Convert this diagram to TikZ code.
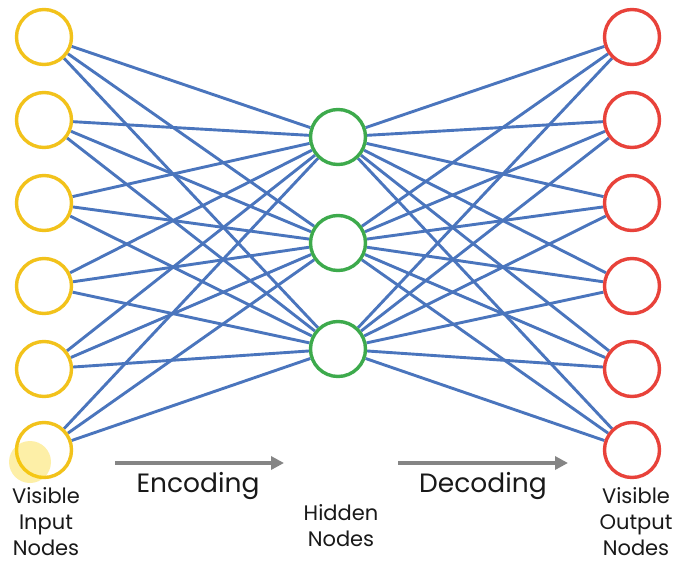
\documentclass[tikz,border=0pt]{standalone}
\usepackage{fontspec}
\setmainfont{Poppins}
\usetikzlibrary{arrows.meta,backgrounds}
\definecolor{inyel}{HTML}{F2C21B}
\definecolor{hidgrn}{HTML}{3DAA4C}
\definecolor{outred}{HTML}{E8423A}
\definecolor{edgeblue}{HTML}{4A75BD}
\definecolor{arrgray}{HTML}{858585}
\begin{document}
\begin{tikzpicture}[x=1pt,y=-1pt,
  neuron/.style={circle,draw,line width=3.4pt,fill=white,minimum size=55pt,inner sep=0pt},
  innode/.style={neuron,draw=inyel},
  hidnode/.style={neuron,draw=hidgrn},
  outnode/.style={neuron,draw=outred},
  edge/.style={draw=edgeblue,line width=2.9pt},
  flow/.style={draw=arrgray,line width=3.6pt,-{Triangle[length=13pt,width=13pt]}},
  lbl/.style={font=\fontsize{21}{26}\selectfont,align=center,text=black!90,inner sep=0pt},
  big/.style={font=\fontsize{26.5}{30}\selectfont,text=black!90}]
\useasboundingbox (0,0) rectangle (686,565);
\foreach \i/\y in {1/37,2/120,3/203,4/286,5/369,6/450}{
  \node[innode] (i\i) at (44,\y) {};
  \node[outnode] (o\i) at (632,\y) {};
}
\foreach \j/\y in {1/137,2/243,3/349}{
  \node[hidnode] (h\j) at (338,\y) {};
}
\begin{scope}[on background layer]
\fill[white] (0,0) rectangle (686,565);
\foreach \i in {1,...,6}{
  \foreach \j in {1,2,3}{
    \draw[edge] (i\i) -- (h\j);
    \draw[edge] (h\j) -- (o\i);
  }
}
\end{scope}
\fill[yellow!70!orange,opacity=0.35] (30,462) circle (21);
\coordinate (ea) at (115,463);
\coordinate (eb) at (284,463);
\coordinate (da) at (398,463);
\coordinate (db) at (568,463);
\draw[flow] (ea) -- (eb);
\draw[flow] (da) -- (db);
\node[big] (enc) at (198,486) {Encoding};
\node[big] (dec) at (483,486) {Decoding};
\node[lbl] (inl) at (46,522) {Visible\\Input\\Nodes};
\node[lbl] (hidl) at (341,526) {Hidden\\Nodes};
\node[lbl] (outl) at (636,522) {Visible\\Output\\Nodes};
\end{tikzpicture}
\end{document}
